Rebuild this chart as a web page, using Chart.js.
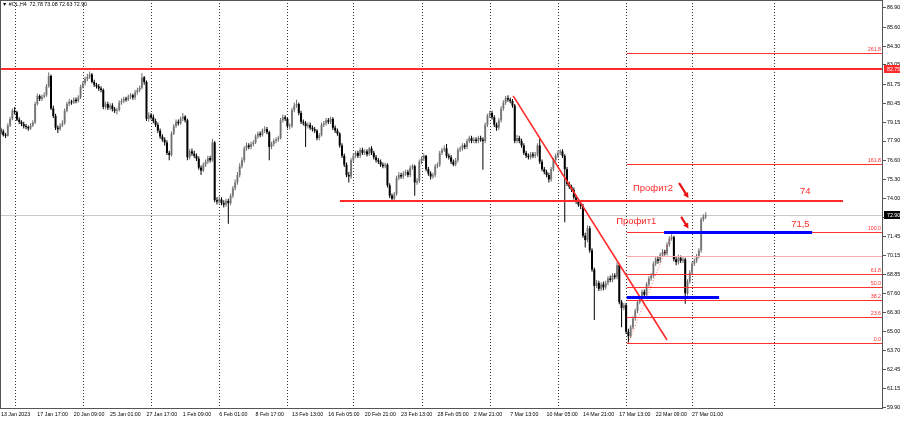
<!DOCTYPE html>
<html>
<head>
<meta charset="utf-8">
<script src="https://cdn.jsdelivr.net/npm/chart.js@4.4.0/dist/chart.umd.min.js"></script>
<style>
  html, body { margin: 0; padding: 0; background: #fff; }
  canvas { display: block; }
</style>
</head>
<body>
<canvas id="chart" width="900" height="421"></canvas>
<script>
// time labels on the bottom axis, one every 16 H4 bars
const timeLabels = ['13 Jan 2023', '17 Jan 17:00', '20 Jan 09:00', '25 Jan 01:00', '27 Jan 17:00',
    '1 Feb 09:00', '6 Feb 01:00', '8 Feb 17:00', '13 Feb 13:00', '16 Feb 05:00', '20 Feb 21:00',
    '23 Feb 13:00', '28 Feb 05:00', '2 Mar 21:00', '7 Mar 13:00', '10 Mar 05:00', '14 Mar 21:00',
    '17 Mar 13:00', '22 Mar 09:00', '27 Mar 01:00'];
const labelStep = 16;

// #CL H4 candles
const opens = [
    78.60,78.55,78.30,78.25,78.95,79.40,79.95,79.85,79.35,79.20,
    79.05,78.90,78.85,78.75,78.95,79.15,80.40,80.95,80.75,80.90,
    81.00,81.60,82.30,80.10,79.60,78.80,78.70,78.95,79.10,79.95,
    80.40,80.55,80.50,80.70,80.60,80.85,81.55,81.80,82.10,82.25,
    82.40,81.90,81.70,81.60,81.45,81.35,80.20,80.40,80.15,80.30,
    80.05,79.95,80.00,80.50,80.60,80.75,80.70,80.90,81.00,80.85,
    81.20,81.35,81.50,82.20,81.90,79.40,79.65,79.50,79.25,79.00,
    78.60,78.20,78.00,77.80,77.10,76.95,78.40,78.90,79.20,79.10,
    79.40,79.55,79.30,76.80,77.20,77.05,76.90,76.70,76.10,75.90,
    76.30,76.50,76.75,76.60,77.80,73.90,73.80,73.95,73.70,73.60,
    73.85,73.70,74.20,74.70,75.10,75.60,76.20,76.60,77.40,77.60,
    77.50,77.70,77.80,78.20,78.40,78.30,78.60,78.70,78.50,77.50,
    77.70,77.90,78.00,78.10,79.30,79.50,79.40,78.90,78.90,80.00,
    80.30,80.40,79.80,79.20,79.10,78.90,79.00,78.80,78.70,78.60,
    78.10,78.30,79.00,79.10,79.30,79.20,79.40,78.80,78.60,78.40,
    77.60,76.90,76.30,75.60,75.50,76.60,76.90,77.10,76.90,77.30,
    77.10,77.20,77.00,77.40,77.10,76.80,76.60,76.50,76.30,76.20,
    76.30,74.90,74.20,74.00,74.30,75.40,75.60,75.50,75.70,75.80,
    75.60,76.10,76.20,75.10,75.20,76.50,76.70,76.90,76.00,75.70,
    75.50,75.60,76.20,76.30,77.10,77.30,77.40,76.90,76.80,76.50,
    76.30,76.60,77.30,77.40,77.60,77.50,77.90,78.10,77.90,78.00,
    77.90,78.10,78.00,77.90,79.00,79.60,79.80,79.50,79.00,78.80,
    79.30,80.10,80.50,80.80,80.70,80.60,80.30,77.90,78.10,77.90,
    77.60,77.10,76.90,76.80,77.00,76.90,77.00,77.60,76.50,76.00,
    75.80,75.60,75.30,76.00,76.60,76.90,77.10,77.20,76.90,76.00,
    75.00,74.80,74.60,74.10,73.80,73.60,73.50,71.50,71.20,72.00,
    70.50,69.20,68.10,68.30,67.90,68.20,68.00,68.30,68.60,68.50,
    68.80,68.70,69.50,67.00,66.60,66.80,65.00,64.70,65.30,65.90,
    66.40,67.00,67.20,67.70,67.50,68.20,68.60,68.80,69.60,69.90,
    69.80,70.20,70.40,70.30,70.90,71.30,71.40,69.90,69.70,70.00,
    69.80,69.90,67.60,68.40,69.00,69.60,69.80,70.10,70.50,72.60,
    72.78];
const highs = [
    78.80,78.70,78.45,79.10,79.55,80.10,80.20,79.95,79.50,79.30,
    79.20,79.05,78.95,79.10,79.30,80.55,81.10,81.05,81.05,81.20,
    81.75,82.55,82.40,80.30,79.75,78.95,79.10,79.30,80.10,80.55,
    80.75,80.70,80.85,80.85,81.00,81.70,81.95,82.25,82.45,82.60,
    82.50,82.05,81.85,81.75,81.60,81.45,80.55,80.55,80.45,80.45,
    80.20,80.15,80.65,80.80,80.90,80.90,81.05,81.15,81.10,81.35,
    81.50,81.65,82.50,82.30,82.00,79.85,79.80,79.70,79.40,79.15,
    78.75,78.35,78.15,77.95,77.25,78.55,79.05,79.35,79.35,79.55,
    79.80,79.65,79.40,77.35,77.40,77.25,77.05,76.85,76.25,76.45,
    76.65,76.90,76.90,78.05,77.90,74.10,74.15,74.10,73.90,74.00,
    74.00,74.35,74.85,75.30,75.80,76.40,76.80,77.55,77.80,77.75,
    77.85,77.95,78.35,78.55,78.55,78.75,78.90,78.85,78.60,77.85,
    78.05,78.15,78.25,79.45,79.70,79.65,79.50,79.10,80.15,80.50,
    80.70,80.50,79.95,79.35,79.25,79.15,79.15,78.95,78.85,78.70,
    78.45,79.15,79.25,79.45,79.45,79.55,79.50,78.95,78.75,78.50,
    77.75,77.05,76.45,75.80,76.75,77.05,77.25,77.25,77.45,77.45,
    77.35,77.35,77.50,77.55,77.25,76.95,76.75,76.65,76.45,76.45,
    76.40,75.05,74.35,74.45,75.55,75.80,75.75,75.85,75.95,75.95,
    76.25,76.35,76.30,75.40,76.65,76.85,77.05,76.95,76.15,75.85,
    75.75,76.35,76.45,77.25,77.45,77.60,77.70,77.05,76.95,76.65,
    76.75,77.45,77.55,77.75,77.75,78.05,78.25,78.25,78.15,78.15,
    78.25,78.25,78.15,79.15,79.75,79.95,79.95,79.65,79.15,79.45,
    80.25,80.65,80.95,81.00,80.85,80.75,80.40,78.30,78.25,78.05,
    77.75,77.25,77.05,77.15,77.15,77.15,77.75,78.05,76.65,76.15,
    75.95,75.75,76.15,76.75,77.05,77.25,77.35,77.35,77.00,76.15,
    75.15,74.95,74.75,74.25,73.95,73.75,73.65,71.70,72.20,72.15,
    70.65,69.35,68.50,68.45,68.35,68.40,68.45,68.75,68.80,68.95,
    68.95,69.70,69.60,67.15,66.95,66.95,65.20,65.45,66.05,66.55,
    67.15,67.40,67.85,67.85,68.35,68.75,68.95,69.75,70.10,70.05,
    70.35,70.60,70.55,71.05,71.45,71.60,71.50,70.05,70.20,70.15,
    70.05,70.00,68.55,69.15,69.75,69.95,70.25,70.65,72.75,72.95,
    73.08];
const lows = [
    78.35,78.20,78.10,78.20,78.85,79.30,79.70,79.25,79.05,78.90,
    78.75,78.70,78.60,78.65,78.85,79.05,80.30,80.60,80.60,80.80,
    80.90,81.50,80.00,79.45,78.65,78.45,78.60,78.85,79.00,79.85,
    80.25,80.35,80.40,80.45,80.50,80.75,81.45,81.65,81.95,82.10,
    81.80,81.55,81.45,81.30,81.20,80.05,80.05,80.00,80.00,79.90,
    79.80,79.70,79.90,80.35,80.45,80.55,80.60,80.75,80.70,80.70,
    81.05,81.20,81.40,81.70,79.25,79.20,79.35,79.10,78.85,78.45,
    78.05,77.85,77.60,76.95,76.60,76.85,78.30,78.80,78.95,79.00,
    79.25,79.15,76.60,76.65,76.90,76.75,76.55,75.95,75.60,75.80,
    76.15,76.35,76.45,76.50,73.75,73.60,73.65,73.55,73.40,73.45,
    72.30,73.55,74.05,74.55,74.95,75.45,76.05,76.45,77.25,77.35,
    77.35,77.55,77.70,78.05,78.15,78.20,78.45,78.35,76.60,77.35,
    77.55,77.75,77.85,78.00,79.15,79.25,78.75,78.70,78.80,79.85,
    80.15,79.65,79.05,78.95,77.50,78.75,78.65,78.55,78.45,77.95,
    77.95,78.20,78.85,78.95,79.05,79.05,78.65,78.45,78.25,77.45,
    76.75,76.15,75.45,75.10,75.35,76.45,76.75,76.75,76.75,76.95,
    76.95,76.85,76.90,76.95,76.65,76.45,76.35,76.15,76.05,76.05,
    74.75,74.05,73.90,73.90,74.20,75.25,75.35,75.35,75.55,75.45,
    75.45,75.95,74.20,74.95,75.05,76.35,76.55,75.85,75.55,75.30,
    75.35,75.45,76.05,76.15,76.95,77.15,76.75,76.65,76.35,76.20,
    76.20,76.45,77.15,77.25,77.35,77.35,77.75,77.75,77.75,77.75,
    77.75,77.85,75.95,77.75,78.85,79.45,79.35,78.85,78.60,78.65,
    79.15,79.95,80.35,80.55,80.45,80.15,77.75,77.75,77.75,77.45,
    76.95,76.75,76.65,76.65,76.75,76.75,76.85,76.35,75.85,75.65,
    75.45,75.10,75.15,75.85,76.45,76.75,76.95,76.75,72.40,74.85,
    74.65,74.45,73.95,73.65,73.45,73.30,71.35,70.70,71.05,70.35,
    69.05,65.80,67.95,67.75,67.75,67.80,67.85,68.15,68.35,68.35,
    68.55,68.55,66.85,65.30,66.45,64.85,64.20,64.55,65.15,65.75,
    66.25,66.85,67.05,67.35,67.35,68.05,68.45,68.65,69.45,69.60,
    69.65,70.05,70.15,70.15,70.75,71.15,69.75,69.50,69.55,69.65,
    69.65,66.90,67.45,68.25,68.85,69.45,69.65,69.95,70.35,72.45,
    72.63];
const closes = [
    78.55,78.30,78.25,78.95,79.40,79.95,79.85,79.35,79.20,79.05,
    78.90,78.85,78.75,78.95,79.15,80.40,80.95,80.75,80.90,81.00,
    81.60,82.30,80.10,79.60,78.80,78.70,78.95,79.10,79.95,80.40,
    80.55,80.50,80.70,80.60,80.85,81.55,81.80,82.10,82.25,82.40,
    81.90,81.70,81.60,81.45,81.35,80.20,80.40,80.15,80.30,80.05,
    79.95,80.00,80.50,80.60,80.75,80.70,80.90,81.00,80.85,81.20,
    81.35,81.50,82.20,81.90,79.40,79.65,79.50,79.25,79.00,78.60,
    78.20,78.00,77.80,77.10,76.95,78.40,78.90,79.20,79.10,79.40,
    79.55,79.30,76.80,77.20,77.05,76.90,76.70,76.10,75.90,76.30,
    76.50,76.75,76.60,77.80,73.90,73.80,73.95,73.70,73.60,73.85,
    73.70,74.20,74.70,75.10,75.60,76.20,76.60,77.40,77.60,77.50,
    77.70,77.80,78.20,78.40,78.30,78.60,78.70,78.50,77.50,77.70,
    77.90,78.00,78.10,79.30,79.50,79.40,78.90,78.90,80.00,80.30,
    80.40,79.80,79.20,79.10,78.90,79.00,78.80,78.70,78.60,78.10,
    78.30,79.00,79.10,79.30,79.20,79.40,78.80,78.60,78.40,77.60,
    76.90,76.30,75.60,75.50,76.60,76.90,77.10,76.90,77.30,77.10,
    77.20,77.00,77.40,77.10,76.80,76.60,76.50,76.30,76.20,76.30,
    74.90,74.20,74.00,74.30,75.40,75.60,75.50,75.70,75.80,75.60,
    76.10,76.20,75.10,75.20,76.50,76.70,76.90,76.00,75.70,75.50,
    75.60,76.20,76.30,77.10,77.30,77.40,76.90,76.80,76.50,76.30,
    76.60,77.30,77.40,77.60,77.50,77.90,78.10,77.90,78.00,77.90,
    78.10,78.00,77.90,79.00,79.60,79.80,79.50,79.00,78.80,79.30,
    80.10,80.50,80.80,80.70,80.60,80.30,77.90,78.10,77.90,77.60,
    77.10,76.90,76.80,77.00,76.90,77.00,77.60,76.50,76.00,75.80,
    75.60,75.30,76.00,76.60,76.90,77.10,77.20,76.90,76.00,75.00,
    74.80,74.60,74.10,73.80,73.60,73.50,71.50,71.20,72.00,70.50,
    69.20,68.10,68.30,67.90,68.20,68.00,68.30,68.60,68.50,68.80,
    68.70,69.50,67.00,66.60,66.80,65.00,64.70,65.30,65.90,66.40,
    67.00,67.20,67.70,67.50,68.20,68.60,68.80,69.60,69.90,69.80,
    70.20,70.40,70.30,70.90,71.30,71.40,69.90,69.70,70.00,69.80,
    69.90,67.60,68.40,69.00,69.60,69.80,70.10,70.50,72.60,72.78,
    72.90];

// price scale labels on the right
const priceTicks = [86.90, 85.60, 84.30, 83.05, 81.75, 80.45, 79.15, 77.90, 76.60, 75.30, 74.00,
    72.70, 71.45, 70.15, 68.85, 67.60, 66.30, 65.00, 63.70, 62.45, 61.15, 59.90];

// vertical grid (bar numbers)
const gridBars = [6, 36, 66, 96, 126, 155, 185, 215, 245, 275, 304, 340];

// objects drawn on the chart, in bar / price units
const topLevel = 82.75;
const level74 = { from: 149.1, to: 370.4, price: 73.84 };
const blueLevels = [
    { from: 291.7, to: 356.8, price: 71.74 },
    { from: 275.3, to: 315.9, price: 67.35 }
];
const trendLine = { x1: 225.3, p1: 80.95, x2: 293.0, p2: 64.44 };
const fibLevels = [0, 23.6, 38.2, 50, 61.8, 78.6, 100, 161.8, 261.8];
const fib = { low: 64.26, high: 71.74, lowBar: 276, highBar: 295.6, from: 275.3 };
const lastPrice = 72.90;
const texts = [
    { text: 'Профит2', bar: 278.0, price: 74.69 },
    { text: 'Профит1', bar: 270.6, price: 72.49 },
    { text: '74', bar: 351.5, price: 74.48 },
    { text: '71,5', bar: 347.6, price: 72.29 }
];
const arrows = [
    { x1: 298.3, p1: 75.06, x2: 302.4, p2: 74.05 },
    { x1: 299.2, p1: 72.78, x2: 302.4, p2: 71.98 }
];

const RED = '#ff2a2a';
const smallFont = '5.3px "Liberation Sans", Arial, sans-serif';

const bull = closes.map((c, i) => c >= opens[i]);
const wickData = highs.map((h, i) => ({ x: i, y: [lows[i], h] }));
const bodyData = closes.map((c, i) => ({ x: i, y: [Math.min(opens[i], c), Math.max(opens[i], c)] }));

function crisp(v) { return Math.round(v) + 0.5; }

const mt4Plugin = {
    id: 'mt4',
    beforeDraw(chart) {
        const ctx = chart.ctx;
        ctx.save();
        ctx.fillStyle = '#fff';
        ctx.fillRect(0, 0, chart.width, chart.height);
        ctx.restore();
    },
    beforeDatasetsDraw(chart) {
        const { ctx, chartArea: a, scales: { x, y } } = chart;
        ctx.save();
        // dotted vertical grid
        ctx.strokeStyle = '#333';
        ctx.lineWidth = 1;
        ctx.setLineDash([1, 2]);
        gridBars.forEach(b => {
            const px = crisp(x.getPixelForValue(b));
            ctx.beginPath();
            ctx.moveTo(px, a.top);
            ctx.lineTo(px, a.bottom);
            ctx.stroke();
        });
        ctx.setLineDash([]);
        // last price line
        const py = crisp(y.getPixelForValue(lastPrice));
        ctx.strokeStyle = '#c8c8c8';
        ctx.beginPath();
        ctx.moveTo(a.left, py);
        ctx.lineTo(a.right, py);
        ctx.stroke();
        ctx.restore();
    },
    afterDatasetsDraw(chart) {
        const { ctx, chartArea: a, scales: { x, y } } = chart;
        const X = v => x.getPixelForValue(v);
        const Y = v => y.getPixelForValue(v);
        ctx.save();
        ctx.beginPath();
        ctx.rect(a.left, a.top, a.right - a.left, a.bottom - a.top);
        ctx.clip();

        // fibonacci levels
        const fibRange = fib.high - fib.low;
        ctx.font = smallFont;
        ctx.textAlign = 'right';
        ctx.textBaseline = 'bottom';
        fibLevels.forEach(lv => {
            const py = crisp(Y(fib.low + fibRange * lv / 100));
            const pale = lv === 78.6;
            ctx.strokeStyle = pale ? '#ffaaaa' : '#ff3030';
            ctx.lineWidth = 1;
            ctx.beginPath();
            ctx.moveTo(X(fib.from), py);
            ctx.lineTo(a.right, py);
            ctx.stroke();
            if (!pale) {
                ctx.fillStyle = '#ff3030';
                ctx.fillText(lv.toFixed(1), a.right - 2, py - 1);
            }
        });
        // fib base line (dotted)
        ctx.strokeStyle = '#ff6a6a';
        ctx.setLineDash([1, 2]);
        ctx.beginPath();
        ctx.moveTo(X(fib.lowBar), Y(fib.low));
        ctx.lineTo(X(fib.highBar), Y(fib.high));
        ctx.stroke();
        ctx.setLineDash([]);

        // red horizontal levels
        ctx.strokeStyle = RED;
        ctx.lineWidth = 2;
        let py = Math.round(Y(topLevel));
        ctx.beginPath();
        ctx.moveTo(a.left, py);
        ctx.lineTo(a.right, py);
        ctx.stroke();
        py = Math.round(Y(level74.price));
        ctx.beginPath();
        ctx.moveTo(X(level74.from), py);
        ctx.lineTo(X(level74.to), py);
        ctx.stroke();

        // falling trend line
        ctx.lineWidth = 1.6;
        ctx.beginPath();
        ctx.moveTo(X(trendLine.x1), Y(trendLine.p1));
        ctx.lineTo(X(trendLine.x2), Y(trendLine.p2));
        ctx.stroke();

        // blue levels
        ctx.strokeStyle = '#0000ff';
        ctx.lineWidth = 3;
        blueLevels.forEach(l => {
            const by = Math.round(Y(l.price)) + 0.5;
            ctx.beginPath();
            ctx.moveTo(X(l.from), by);
            ctx.lineTo(X(l.to), by);
            ctx.stroke();
        });

        // texts
        ctx.font = '9.5px "Liberation Sans", Arial, sans-serif';
        ctx.fillStyle = RED;
        ctx.textAlign = 'left';
        ctx.textBaseline = 'middle';
        texts.forEach(t => ctx.fillText(t.text, X(t.bar), Y(t.price)));

        // arrows
        arrows.forEach(ar => {
            const x1 = X(ar.x1), y1 = Y(ar.p1), x2 = X(ar.x2), y2 = Y(ar.p2);
            const ang = Math.atan2(y2 - y1, x2 - x1);
            const h = 6;
            ctx.strokeStyle = '#e81010';
            ctx.fillStyle = '#e81010';
            ctx.lineWidth = 2.2;
            ctx.beginPath();
            ctx.moveTo(x1, y1);
            ctx.lineTo(x2 - Math.cos(ang) * h * 0.7, y2 - Math.sin(ang) * h * 0.7);
            ctx.stroke();
            ctx.beginPath();
            ctx.moveTo(x2, y2);
            ctx.lineTo(x2 - h * Math.cos(ang - 0.5), y2 - h * Math.sin(ang - 0.5));
            ctx.lineTo(x2 - h * Math.cos(ang + 0.5), y2 - h * Math.sin(ang + 0.5));
            ctx.closePath();
            ctx.fill();
        });
        ctx.restore();
    },
    afterDraw(chart) {
        const { ctx, chartArea: a, scales: { y } } = chart;
        const Y0 = p => Math.round(y.getPixelForValue(p));
        ctx.save();
        // frame
        ctx.strokeStyle = '#555';
        ctx.lineWidth = 1;
        ctx.strokeRect(a.left + 0.5, a.top + 0.5, a.right - a.left - 1, a.bottom - a.top);
        // price boxes on the scale
        ctx.font = smallFont;
        ctx.textAlign = 'left';
        ctx.textBaseline = 'middle';
        [[topLevel, RED, '82.75'], [lastPrice, '#000', lastPrice.toFixed(2)]].forEach(([p, bg, txt]) => {
            const py = Y0(p);
            ctx.fillStyle = bg;
            ctx.fillRect(a.right + 1, py - 4, chart.width - a.right - 1, 8);
            ctx.fillStyle = '#fff';
            ctx.fillText(txt, a.right + 4, py + 0.5);
        });
        // symbol header
        ctx.fillStyle = '#000';
        ctx.fillText('▼ #CL,H4  72.78 73.08 72.63 72.90', 2, 5);
        ctx.restore();
    }
};

const ctx = document.getElementById('chart').getContext('2d');
new Chart(ctx, {
    type: 'bar',
    data: {
        datasets: [{
            data: wickData,
            backgroundColor: bull.map(b => b ? '#6e6e6e' : '#000'),
            barThickness: 1,
            grouped: false,
            borderWidth: 0,
            inflateAmount: 0
        }, {
            data: bodyData,
            backgroundColor: bull.map(b => b ? '#8a8a8a' : '#000'),
            barThickness: 2,
            grouped: false,
            borderWidth: 0,
            inflateAmount: 0,
            minBarLength: 1
        }]
    },
    options: {
        responsive: false,
        animation: false,
        devicePixelRatio: 1,
        layout: { padding: 0 },
        plugins: { legend: { display: false }, tooltip: { enabled: false } },
        scales: {
            x: {
                type: 'linear',
                min: -0.44,
                max: 388,
                offset: false,
                afterBuildTicks: s => { s.ticks = timeLabels.map((t, k) => ({ value: k * labelStep })); },
                afterFit: s => { s.height = 13; s.paddingLeft = 0; s.paddingRight = 0; },
                grid: { display: false, drawTicks: false, offset: false },
                border: { display: false },
                ticks: {
                    align: 'start',
                    padding: 3,
                    maxRotation: 0,
                    autoSkip: false,
                    color: '#000',
                    font: { family: '"Liberation Sans", Arial, sans-serif', size: 5.3 },
                    callback: (v, i) => timeLabels[i]
                }
            },
            y: {
                position: 'right',
                min: 59.84,
                max: 87.44,
                afterBuildTicks: s => { s.ticks = priceTicks.map(v => ({ value: v })); },
                afterFit: s => { s.width = 17; s.paddingTop = 0; s.paddingBottom = 0; },
                grid: { drawOnChartArea: false, drawTicks: true, tickLength: 3, color: '#555' },
                border: { display: false },
                ticks: {
                    padding: 1,
                    color: '#000',
                    font: { family: '"Liberation Sans", Arial, sans-serif', size: 5.3 },
                    callback: v => v.toFixed(2)
                }
            }
        }
    },
    plugins: [mt4Plugin]
});
</script>
</body>
</html>
